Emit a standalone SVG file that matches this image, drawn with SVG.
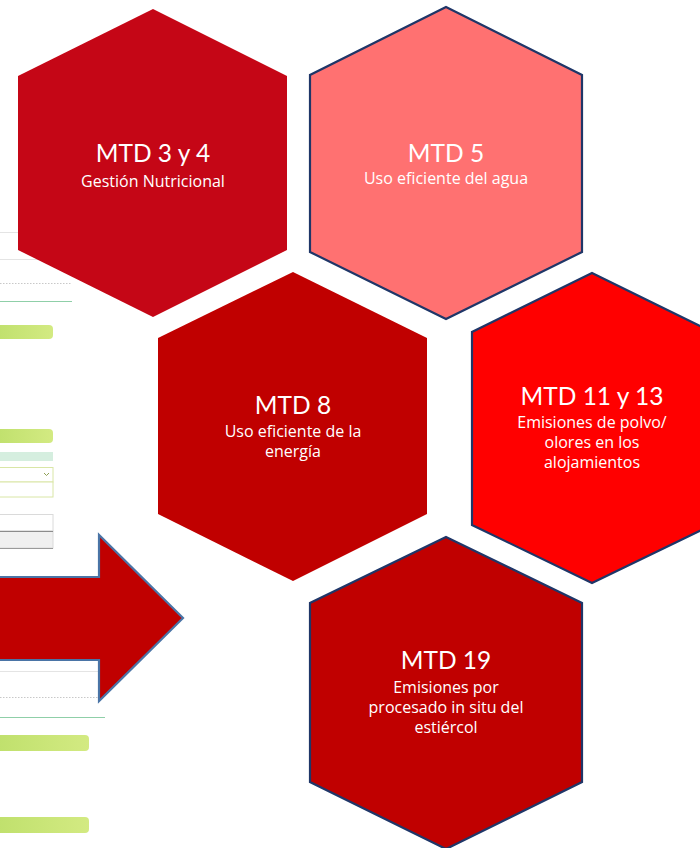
<svg xmlns="http://www.w3.org/2000/svg" width="700" height="848" viewBox="0 0 700 848">
  <defs>
    <linearGradient id="gbar" x1="0" y1="0" x2="1" y2="0">
      <stop offset="0" stop-color="#BFE06C"/>
      <stop offset="1" stop-color="#D3EA82"/>
    </linearGradient>
    <style>
      .t { fill: #FFFFFF; text-anchor: middle; }
      .title { font-family: Lato, "Open Sans", "Liberation Sans", sans-serif; font-size: 24.5px; }
      .sub { font-family: "Open Sans", Lato, "Liberation Sans", sans-serif; font-size: 16px; }
      .navy { stroke: #1F3668; stroke-width: 2.2; stroke-linejoin: miter; }
      .gray { stroke: #E4E4E4; stroke-width: 1; }
      .dot { stroke: #C8C8C8; stroke-width: 1; stroke-dasharray: 1.5 1.5; }
      .mint { stroke: #8FCFA8; stroke-width: 1; }
      .bar { fill: url(#gbar); }
    </style>
  </defs>
  <rect width="700" height="848" fill="#FFFFFF"/>

  <!-- background UI fragments -->
  <g id="background-ui">
    <line class="gray" x1="0" y1="232.5" x2="60" y2="232.5"/>
    <line class="gray" x1="0" y1="259.5" x2="60" y2="259.5"/>
    <line class="dot" x1="0" y1="283.5" x2="71" y2="283.5"/>
    <line class="mint" x1="0" y1="301.5" x2="72" y2="301.5"/>
    <rect class="bar" x="-6" y="325" width="59" height="14" rx="4"/>
    <rect class="bar" x="-6" y="429" width="59" height="14" rx="4"/>
    <rect x="0" y="452" width="53" height="9" fill="#D5EEDF"/>
    <rect x="-2" y="467.5" width="55" height="14.5" fill="#FFFFFF" stroke="#D9E6A6" stroke-width="1"/>
    <path d="M44 473 L46.5 475.5 L49 473" fill="none" stroke="#8FA055" stroke-width="1"/>
    <rect x="-2" y="482" width="55" height="15" fill="#FFFFFF" stroke="#D9E6A6" stroke-width="1"/>
    <rect x="-2" y="514.5" width="55" height="16.5" fill="#FFFFFF" stroke="#DADADA" stroke-width="1"/>
    <rect x="-2" y="531" width="55" height="17" fill="#F0F0F0" stroke="#DADADA" stroke-width="1"/>
    <line x1="0" y1="531.5" x2="53" y2="531.5" stroke="#8C8C8C" stroke-width="1"/>
    <line x1="0" y1="548.5" x2="53" y2="548.5" stroke="#9A9A9A" stroke-width="1"/>
    <line class="gray" x1="0" y1="671.5" x2="100" y2="671.5"/>
    <line class="dot" x1="0" y1="697.5" x2="99" y2="697.5"/>
    <line class="mint" x1="0" y1="717.5" x2="105" y2="717.5"/>
    <rect class="bar" x="-6" y="735" width="95" height="16" rx="4"/>
    <rect class="bar" x="-6" y="817" width="95" height="16" rx="4"/>
  </g>

  <!-- arrow -->
  <g id="arrow">
    <path d="M-10 577 L99 577 L99 535 L183 618 L99 701 L99 660 L-10 660 Z" fill="#C00000" stroke="#4A74A6" stroke-width="2.2" stroke-linejoin="miter"/>
  </g>

  <g id="connectors"></g>

  <g id="mtd-3-4">
    <polygon points="153,9 287,76 287,250 153,317 18,250 18,76" fill="#C50616"/>
    <text class="t title" x="153" y="162">MTD 3 y 4</text>
    <text class="t sub" x="153" y="187">Gestión Nutricional</text>
  </g>

  <g id="mtd-5">
    <polygon class="navy" points="446,7 582,75 582,252 446,319 310,252 310,75" fill="#FF7171"/>
    <text class="t title" x="446" y="162">MTD 5</text>
    <text class="t sub" x="446" y="184">Uso eficiente del agua</text>
  </g>

  <g id="mtd-8">
    <polygon points="293,272 427,338 427,514 293,581 158,514 158,338" fill="#C00000"/>
    <text class="t title" x="293" y="414">MTD 8</text>
    <text class="t sub" x="293" y="436.5">Uso eficiente de la</text>
    <text class="t sub" x="293" y="457">energía</text>
  </g>

  <g id="mtd-11-13">
    <polygon class="navy" points="592,273 712,332 712,525 592,583 472,525 472,332" fill="#FF0000"/>
    <text class="t title" x="592" y="405">MTD 11 y 13</text>
    <text class="t sub" x="592" y="428">Emisiones de polvo/</text>
    <text class="t sub" x="592" y="448">olores en los</text>
    <text class="t sub" x="592" y="468">alojamientos</text>
  </g>

  <g id="mtd-19">
    <polygon class="navy" points="446,537 582,603 582,782 446,849 310,782 310,603" fill="#C00000"/>
    <text class="t title" x="446" y="669">MTD 19</text>
    <text class="t sub" x="446" y="693">Emisiones por</text>
    <text class="t sub" x="446" y="713">procesado in situ del</text>
    <text class="t sub" x="446" y="733">estiércol</text>
  </g>
</svg>
